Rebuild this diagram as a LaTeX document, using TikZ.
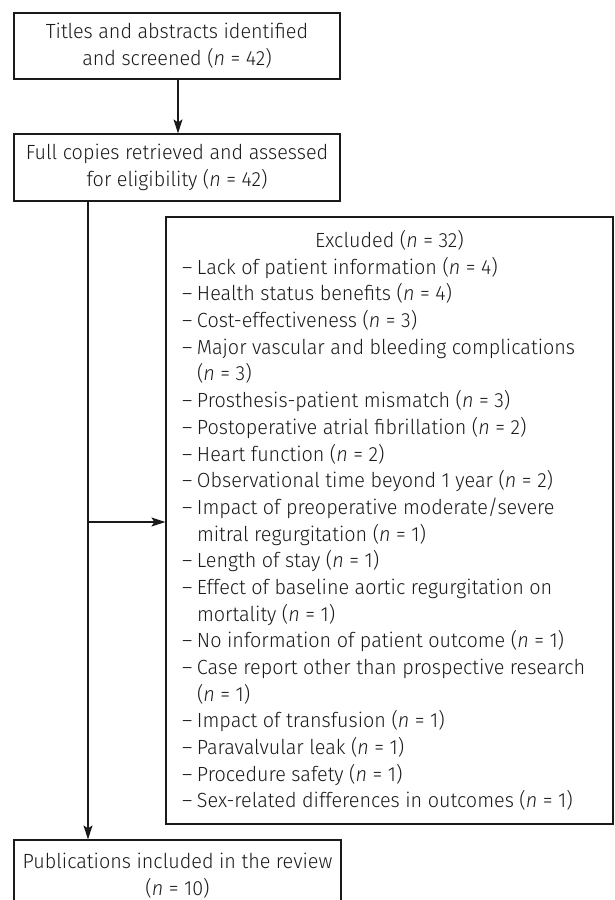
\documentclass[tikz,border=0pt]{standalone}
\usepackage{fontspec}
\setmainfont{Fira Sans Light}[ItalicFont={Fira Sans Light Italic},FakeStretch=0.965]
\usetikzlibrary{arrows.meta}
\definecolor{ink}{HTML}{1A1A1A}
\newcommand\exitem[1]{\par\noindent\hangindent=15pt\hangafter=1\makebox[15pt][l]{–}#1\par}
\newcommand\nn{\textit{n}}
\begin{document}
\begin{tikzpicture}[x=1pt,y=-1pt,
  box/.style={draw=ink, line width=1.2pt, inner sep=0pt, align=center, text=ink,
    font=\fontsize{20.5}{26.67}\selectfont},
  conn/.style={draw=ink, line width=1.2pt, -{Stealth[length=14pt,width=9pt,inset=3pt]}}]
\clip (0,0) rectangle (614,900);
\node[box, minimum width=326pt, minimum height=66pt] (b1) at (177,46)
  {Titles and abstracts identified\\and screened (\nn{} = 42)};
\node[box, minimum width=326pt, minimum height=67pt] (b2) at (177,167.5)
  {Full copies retrieved and assessed\\for eligibility (\nn{} = 42)};
\node[box, minimum width=447pt, minimum height=607pt] (b3) at (389.5,520.5)
  {\parbox{415pt}{\centering Excluded (\nn{} = 32)\par\raggedright
  \exitem{Lack of patient information (\nn{} = 4)}
  \exitem{Health status benefits (\nn{} = 4)}
  \exitem{Cost-effectiveness (\nn{} = 3)}
  \exitem{Major vascular and bleeding complications\newline(\nn{} = 3)}
  \exitem{Prosthesis-patient mismatch (\nn{} = 3)}
  \exitem{Postoperative atrial fibrillation (\nn{} = 2)}
  \exitem{Heart function (\nn{} = 2)}
  \exitem{Observational time beyond 1 year (\nn{} = 2)}
  \exitem{Impact of preoperative moderate/severe\newline mitral regurgitation (\nn{} = 1)}
  \exitem{Length of stay (\nn{} = 1)}
  \exitem{Effect of baseline aortic regurgitation on\newline mortality (\nn{} = 1)}
  \exitem{No information of patient outcome (\nn{} = 1)}
  \exitem{Case report other than prospective research\newline(\nn{} = 1)}
  \exitem{Impact of transfusion (\nn{} = 1)}
  \exitem{Paravalvular leak (\nn{} = 1)}
  \exitem{Procedure safety (\nn{} = 1)}
  \exitem{Sex-related differences in outcomes (\nn{} = 1)}}};
\node[box, minimum width=327pt, minimum height=72pt] (b4) at (177.5,876)
  {Publications included in the review\\(\nn{} = 10)};
\coordinate (j) at (88,522);
\draw[conn] (b1.south -| 178,0) -- (b2.north -| 178,0);
\draw[conn] (b2.south -| j) -- (b4.north -| j);
\draw[conn] (j) -- (j -| b3.west);
\end{tikzpicture}
\end{document}
